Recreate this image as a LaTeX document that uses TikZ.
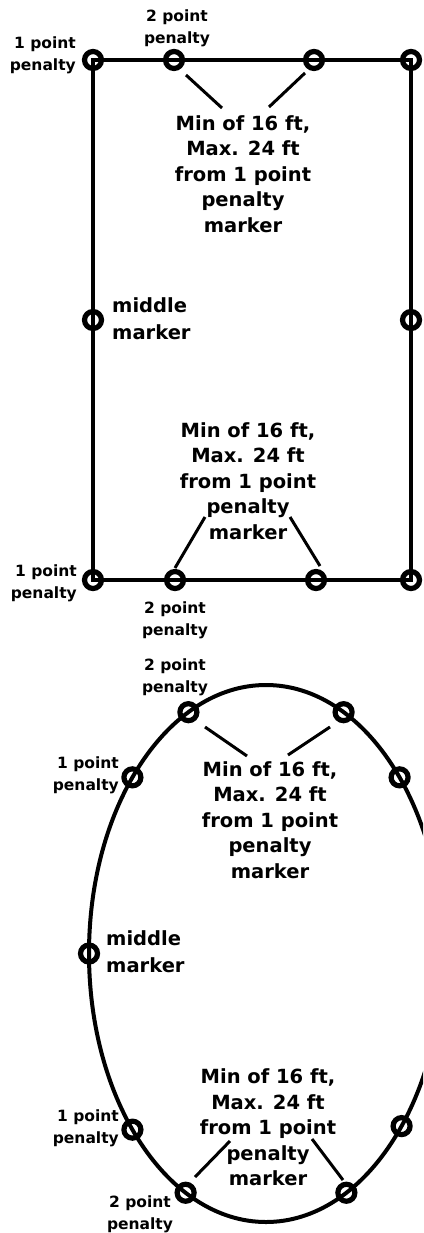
\documentclass[tikz,border=0pt]{standalone}
\usepackage{fontspec}
\setmainfont{DejaVu Sans}
\usetikzlibrary{calc}
\begin{document}
\begin{tikzpicture}[x=1pt,y=-1pt,
  pmarker/.style={circle,draw,line width=5.2pt,minimum size=17pt,inner sep=0pt},
  edgeline/.style={line width=4pt},
  leader/.style={line width=3pt},
  big/.style={font=\bfseries\fontsize{19.5}{25.5}\selectfont,align=center,inner sep=0pt},
  midlab/.style={font=\bfseries\fontsize{19.5}{27}\selectfont,align=left,anchor=west,inner sep=0pt},
  small/.style={font=\bfseries\fontsize{15.5}{22}\selectfont,inner sep=0pt},
]
\useasboundingbox (0,0) rectangle (423,1233);
\clip (0,0) rectangle (423,1233);

% ---------- rectangle field ----------
\node[pmarker] (r1) at (93,60) {};
\node[pmarker] (r2) at (174,60) {};
\node[pmarker] (r3) at (314,60) {};
\node[pmarker] (r4) at (411,60) {};
\node[pmarker] (r5) at (93,320) {};
\node[pmarker] (r6) at (411,320) {};
\node[pmarker] (r7) at (93,580) {};
\node[pmarker] (r8) at (175,580) {};
\node[pmarker] (r9) at (316,580) {};
\node[pmarker] (r10) at (411,580) {};
\draw[edgeline] (r1.center) -- (r2.center) -- (r3.center) -- (r4.center) -- (r6.center) -- (r10.center)
  -- (r9.center) -- (r8.center) -- (r7.center) -- (r5.center) -- cycle;

\node[small,align=right,anchor=east] (rl1) at (76,55) {1 point\\penalty};
\node[small,align=center] (rl2) at (177,28) {2 point\\penalty};
\node[big] (rt1) at (243,174) {Min of 16 ft,\\Max. 24 ft\\from 1 point\\penalty\\marker};
\node[midlab] (rm) at (112,319) {middle\\marker};
\node[big] (rt2) at (248,481) {Min of 16 ft,\\Max. 24 ft\\from 1 point\\penalty\\marker};
\node[small,align=right,anchor=east] (rl3) at (77,583) {1 point\\penalty};
\node[small,align=center] (rl4) at (175,620) {2 point\\penalty};

\coordinate (a1) at (186,75);  \coordinate (a2) at (222,108);
\coordinate (a3) at (305,73);  \coordinate (a4) at (269,107);
\coordinate (b1) at (205,517); \coordinate (b2) at (175,568);
\coordinate (b3) at (290,517); \coordinate (b4) at (320,566);
\draw[leader] (a1) -- (a2);
\draw[leader] (a3) -- (a4);
\draw[leader] (b1) -- (b2);
\draw[leader] (b3) -- (b4);

% ---------- oval field ----------
\coordinate (ec) at (266,953.5);
\draw[edgeline] (ec) ellipse [x radius=177, y radius=268.5];
\node[pmarker] (e1) at ([shift={(244:177 and 268.5)}]ec) {};
\node[pmarker] (e2) at ([shift={(296:177 and 268.5)}]ec) {};
\node[pmarker] (e3) at ([shift={(221:177 and 268.5)}]ec) {};
\node[pmarker] (e4) at ([shift={(319:177 and 268.5)}]ec) {};
\node[pmarker] (e5) at ([shift={(180:177 and 268.5)}]ec) {};
\node[pmarker] (e6) at ([shift={(139:177 and 268.5)}]ec) {};
\node[pmarker] (e7) at ([shift={(40:177 and 268.5)}]ec) {};
\node[pmarker] (e8) at ([shift={(117:177 and 268.5)}]ec) {};
\node[pmarker] (e9) at ([shift={(63:177 and 268.5)}]ec) {};

\node[small,align=center] (el1) at (175,677) {2 point\\penalty};
\node[small,align=right,anchor=east] (el2) at (119,775) {1 point\\penalty};
\node[big] (et1) at (270,820) {Min of 16 ft,\\Max. 24 ft\\from 1 point\\penalty\\marker};
\node[midlab] (em) at (106,952) {middle\\marker};
\node[big] (et2) at (268,1127.5) {Min of 16 ft,\\Max. 24 ft\\from 1 point\\penalty\\marker};
\node[small,align=right,anchor=east] (el3) at (119,1128) {1 point\\penalty};
\node[small,align=center] (el4) at (140,1214) {2 point\\penalty};

\coordinate (c1) at (205,727);  \coordinate (c2) at (247,756);
\coordinate (c3) at (330,727);  \coordinate (c4) at (288,755);
\coordinate (d1) at (230,1141); \coordinate (d2) at (195,1177);
\coordinate (d3) at (312,1139); \coordinate (d4) at (343,1180);
\draw[leader] (c1) -- (c2);
\draw[leader] (c3) -- (c4);
\draw[leader] (d1) -- (d2);
\draw[leader] (d3) -- (d4);
\end{tikzpicture}
\end{document}
